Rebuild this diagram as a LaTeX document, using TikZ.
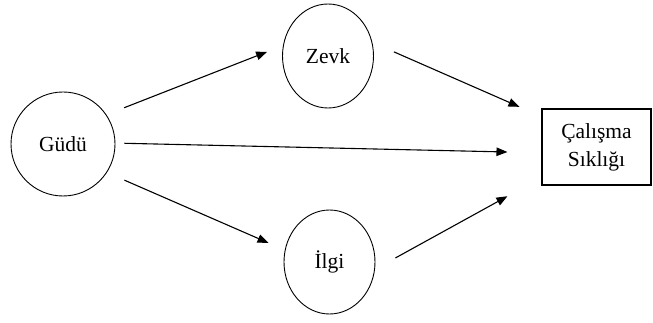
\documentclass[tikz,border=0pt]{standalone}
\usepackage{fontspec}
\setmainfont{Liberation Serif}
\usetikzlibrary{shapes.geometric,arrows.meta}
\begin{document}
\begin{tikzpicture}[x=1pt,y=-1pt,
  lbl/.style={font=\fontsize{21.5}{28}\selectfont, align=center},
  circ/.style={draw, line width=0.9pt, circle, minimum size=104pt, inner sep=0pt, lbl},
  ell/.style={draw, line width=0.9pt, ellipse, minimum width=91pt, minimum height=104pt, inner sep=0pt, lbl},
  outbox/.style={draw, line width=1.1pt, rectangle, minimum width=109pt, minimum height=76pt, inner sep=0pt, lbl},
  conn/.style={line width=1.1pt, -{Triangle[length=11pt,width=8.5pt]}}
]
\useasboundingbox (0,0) rectangle (653,323);
\node[circ] (g) at (63,144) {Güdü};
\node[ell] (z) at (328,56) {Zevk};
\node[ell] (i) at (329.5,262) {İlgi};
\node[outbox] (s) at (596.5,147) {Çalışma\\Sıklığı};
\draw[conn, shorten <=19pt, shorten >=17pt] (g.34) -- (z.167);
\draw[conn, shorten <=9pt, shorten >=34pt] (g.1) -- (s.186);
\draw[conn, shorten <=19pt, shorten >=17.7pt] (g.-33) -- (i.165);
\draw[conn, shorten <=23.5pt, shorten >=24pt] (z.17) -- (s.151.5);
\draw[conn, shorten <=23.3pt, shorten >=38.8pt] (i.-9) -- (s.209.3);
\end{tikzpicture}
\end{document}
